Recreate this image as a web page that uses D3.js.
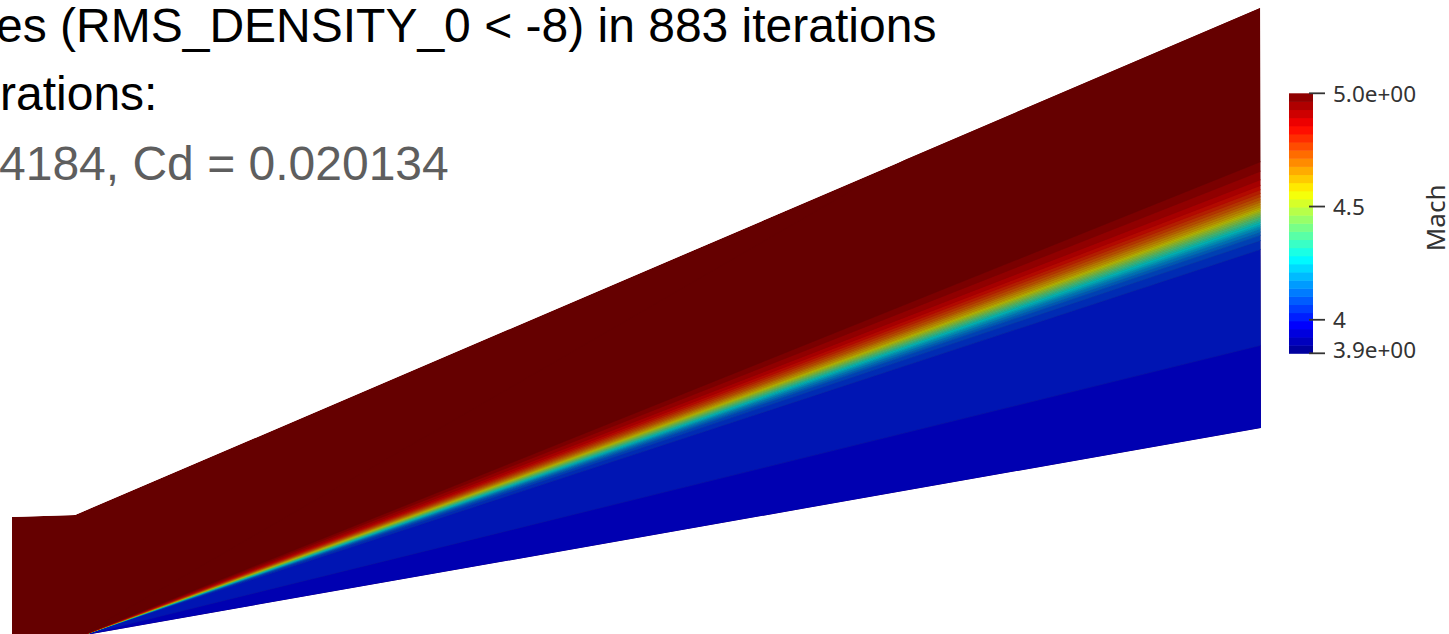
<!DOCTYPE html>
<html>
<head>
<meta charset="utf-8">
<script src="https://cdn.jsdelivr.net/npm/d3@7"></script>
<style>
  body { margin: 0; background: #fff; }
  svg { display: block; }
</style>
</head>
<body>
<div id="plot"></div>
<script>
const width = 1449;
const height = 634;

// heading lines (slide text, cut at the left border)
const headLines = ["es (RMS_DENSITY_0 < -8) in 883 iterations", "rations:", "4184, Cd = 0.020134"];
const headColors = ["#000000", "#000000", "#5e5e5e"];

// domain outline, model units (apex of the ramp at 0,0)
const domainX = [-0.0576, -0.0042, 0.9992, 1.0, 0.0, -0.0576];
const domainY = [0.1008, 0.1025, 0.5318, 0.1761, 0.0, 0.0];

// Mach along rays from the apex (angle in degrees)
const profileAngle = [9.0, 13.7, 13.9, 17.9, 18.3, 18.7, 19.0, 19.3, 19.6, 19.85, 20.0, 20.3, 20.6, 21.0, 21.5, 21.95, 22.3, 40.0];
const profileMach  = [3.97, 3.97, 4.01, 4.02, 4.04, 4.09, 4.17, 4.28, 4.43, 4.55, 4.62, 4.72, 4.80, 4.88, 4.93, 4.97, 5.0, 5.0];

// colour bar
const machRange = [3.852, 5.0];
const nColors = 32;
const barTicks = [5.0, 4.5, 4.0, 3.852];
const barLabels = ["5.0e+00", "4.5", "4", "3.9e+00"];
const barTitle = "Mach";

// jet preset
const jetStops = [0, 0.111111, 0.365079, 0.492063, 0.619048, 0.873016, 1];
const jetColors = ["#00008f", "#0000ff", "#00ffff", "#80ff80", "#ffff00", "#ff0000", "#800000"];

const shade = 0.70; // surface lighting

const svg = d3.select("#plot")
  .append("svg")
  .attr("width", width)
  .attr("height", height);

const x = d3.scaleLinear().domain([0, 1]).range([80, 1261]);
const y = d3.scaleLinear().domain([0, 1]).range([636, -545]);

const jet = d3.scaleLinear().domain(jetStops).range(jetColors).interpolate(d3.interpolateRgb);
const bandColors = d3.range(nColors).map(i => jet((i + 0.5) / nColors));
const color = d3.scaleQuantize().domain(machRange).range(bandColors);
const machAt = d3.scaleLinear().domain(profileAngle).range(profileMach).clamp(true);

function lit(c) {
  const r = d3.rgb(c);
  return d3.rgb(r.r * shade, r.g * shade, r.b * shade).formatHex();
}

// domain
const outline = domainX.map((d, i) => [x(d), y(domainY[i])]);

svg.append("clipPath")
  .attr("id", "dom")
  .append("polygon")
  .attr("points", outline.map(p => p.join(",")).join(" "));

const field = svg.append("g").attr("clip-path", "url(#dom)");

field.append("polygon")
  .attr("points", outline.map(p => p.join(",")).join(" "))
  .attr("fill", lit(color(machRange[1])));

// merge rays of same colour into wedges
const step = 0.01;
const wedges = [];
let cur = null;
for (let a = profileAngle[0]; a <= 30; a += step) {
  const c = color(machAt(a));
  if (cur && cur.c === c) {
    cur.a1 = a + step;
  } else {
    cur = { a0: a, a1: a + step, c: c };
    wedges.push(cur);
  }
}

const R = 2;
field.selectAll("polygon.band")
  .data(wedges)
  .enter().append("polygon")
  .attr("class", "band")
  .attr("points", d => {
    const r0 = d.a0 * Math.PI / 180, r1 = d.a1 * Math.PI / 180;
    return [[x(0), y(0)],
            [x(R * Math.cos(r0)), y(R * Math.sin(r0))],
            [x(R * Math.cos(r1)), y(R * Math.sin(r1))]].map(p => p.join(",")).join(" ");
  })
  .attr("fill", d => lit(d.c))
  .attr("stroke", d => lit(d.c))
  .attr("stroke-width", 0.6);

// colour bar
const barX = 1289, barW = 24;
const by = d3.scaleLinear().domain(machRange).range([353.3, 93.3]);
const bw = (machRange[1] - machRange[0]) / nColors;

svg.selectAll("rect.bar")
  .data(bandColors)
  .enter().append("rect")
  .attr("class", "bar")
  .attr("x", barX)
  .attr("y", (d, i) => by(machRange[0] + (i + 1) * bw))
  .attr("width", barW)
  .attr("height", by(machRange[0]) - by(machRange[0] + bw) + 0.5)
  .attr("fill", d => d);

svg.selectAll("line.tick")
  .data(barTicks)
  .enter().append("line")
  .attr("class", "tick")
  .attr("x1", barX + barW - 4)
  .attr("x2", barX + barW + 12)
  .attr("y1", d => by(d))
  .attr("y2", d => by(d))
  .attr("stroke", "#333333")
  .attr("stroke-width", 1.8);

svg.selectAll("text.tick")
  .data(barTicks)
  .enter().append("text")
  .attr("class", "tick")
  .attr("x", barX + barW + 20)
  .attr("y", (d, i) => by(d) + (i === barTicks.length - 1 ? -4 : 0))
  .attr("dominant-baseline", "central")
  .attr("font-family", "Noto Sans")
  .attr("font-size", 22.5)
  .attr("fill", "#333333")
  .text((d, i) => barLabels[i]);

svg.append("text")
  .attr("transform", "translate(1435," + by(4.45) + ") rotate(-90)")
  .attr("text-anchor", "middle")
  .attr("dominant-baseline", "central")
  .attr("font-family", "Noto Sans")
  .attr("font-size", 26)
  .attr("fill", "#333333")
  .text(barTitle);

// heading text
const headX = [-4, 0, -1];
const headY = [42, 110, 180];
svg.selectAll("text.head")
  .data(headLines)
  .enter().append("text")
  .attr("class", "head")
  .attr("x", (d, i) => headX[i])
  .attr("y", (d, i) => headY[i])
  .attr("font-family", "Liberation Sans, Arial, sans-serif")
  .attr("font-size", 48)
  .attr("fill", (d, i) => headColors[i])
  .text(d => d);
</script>
</body>
</html>
